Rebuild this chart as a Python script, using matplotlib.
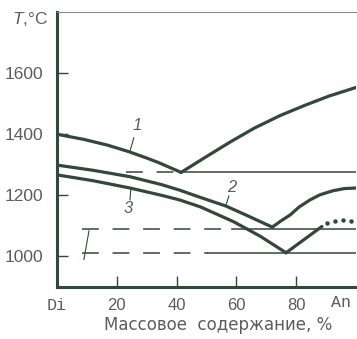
import matplotlib
matplotlib.use("Agg")
import matplotlib.pyplot as plt

# Liquidus curves (mass %, °C)
c1_left_x = [0, 9, 17, 24, 30, 34, 38, 41.5]
c1_left_t = [1400, 1383, 1364, 1343, 1322, 1307, 1290, 1275]
c1_right_x = [41.5, 50, 58, 66, 74.6, 83, 91, 100]
c1_right_t = [1275, 1327, 1375, 1420, 1461, 1495, 1525, 1553]

c2_left_x = [0, 12, 24.4, 35, 41, 48, 56.5, 64, 72]
c2_left_t = [1299, 1282, 1261, 1235, 1217, 1193, 1165, 1132, 1096]
c2_right_x = [72, 75, 78, 81, 84.6, 88, 92.3, 96, 100]
c2_right_t = [1096, 1117, 1136, 1162, 1185, 1202, 1215, 1222, 1224]

c3_left_x = [0, 12, 24.4, 35, 41, 48, 59, 68, 76.6]
c3_left_t = [1267, 1248, 1224, 1200, 1185, 1162, 1114, 1066, 1012]
c3_right_x = [76.6, 88.6]
c3_right_t = [1012, 1098]
c3_dot_x = [90.3, 93, 95.7, 98.3]
c3_dot_t = [1110, 1116, 1118, 1117]

# Eutectic isotherms: temperature, dashed start, solid start
eutectic_t = [1275, 1090, 1011]
dash_start = [23, 8.4, 8.4]
solid_start = [41.5, 58.5, 50.5]

xtick_vals = [0, 20, 40, 60, 80]
xtick_labels = ["Di", "20", "40", "60", "80"]
ytick_vals = [1000, 1200, 1400, 1600]

line_col = "#33473a"
text_col = "#5c5c5c"

plt.rcParams["mathtext.fontset"] = "custom"
plt.rcParams["mathtext.it"] = "Liberation Sans:italic"

fig = plt.figure(figsize=(3.57, 3.39), dpi=100)
ax = fig.add_axes([57 / 357, 1 - 287 / 339, 299 / 357, 275 / 339])
ax.set_xlim(0, 100)
ax.set_ylim(900, 1800)

lw = 2.3
for xs, ts in [(c1_left_x, c1_left_t), (c1_right_x, c1_right_t),
               (c2_left_x, c2_left_t), (c2_right_x, c2_right_t),
               (c3_left_x, c3_left_t), (c3_right_x, c3_right_t)]:
    ax.plot(xs, ts, color=line_col, lw=lw, solid_capstyle="round", solid_joinstyle="round")

# dotted continuation of curve 3
ax.plot(c3_dot_x, c3_dot_t, color=line_col, linestyle="none", marker="o",
        markersize=3.2, markeredgewidth=0)

for t, d0, s0 in zip(eutectic_t, dash_start, solid_start):
    ax.plot([d0, s0], [t, t], color=line_col, lw=1.1, linestyle=(0, (11, 9)))
    ax.plot([s0, 100], [t, t], color=line_col, lw=1.1)

# Leader lines for curve numbers
ax.plot([25.7, 24.4], [1388, 1345], color=line_col, lw=0.8)
ax.plot([57.5, 56.5], [1198, 1168], color=line_col, lw=0.8)
ax.plot([24.4, 24.7], [1185, 1221], color=line_col, lw=0.8)
ax.plot([10.7, 9.0], [1084, 990], color=line_col, lw=0.8)

lab_font = dict(color=text_col, fontsize=12, family="Liberation Sans", style="italic")
ax.text(26.8, 1430, "1", ha="center", va="center", **lab_font)
ax.text(58.5, 1224, "2", ha="center", va="center", **lab_font)
ax.text(23.7, 1158, "3", ha="center", va="center", **lab_font)

for side in ["left", "bottom"]:
    ax.spines[side].set_linewidth(2.2)
    ax.spines[side].set_color(line_col)
ax.spines["top"].set_linewidth(0.8)
ax.spines["top"].set_color("#8a8a8a")
ax.spines["right"].set_visible(False)

ax.set_yticks(ytick_vals)
ax.set_yticklabels([str(v) for v in ytick_vals])
ax.set_xticks(xtick_vals)
ax.set_xticklabels(xtick_labels)
ax.tick_params(direction="in", length=8, width=1, color=line_col, labelcolor=text_col)
ax.tick_params(axis="y", pad=10, labelsize=12.5)
ax.tick_params(axis="x", pad=8, labelsize=12)
for lbl in ax.get_yticklabels() + ax.get_xticklabels():
    lbl.set_family("Liberation Sans")
ax.get_xticklabels()[0].set_family("Liberation Mono")

ax.text(95, -0.058, "An", transform=ax.get_xaxis_transform(), ha="center", va="center",
        color=text_col, fontsize=12, family="Liberation Mono")

fig.text(48 / 357, 1 - 19 / 339, "$T$,°C", ha="right", va="center", color=text_col,
         fontsize=12.5, family="Liberation Sans")

fig.text(218 / 357, 1 - 325 / 339, "Массовое  содержание, %", ha="center", va="center",
         color=text_col, fontsize=12, family="DejaVu Sans")

fig.savefig("out.png", dpi=100, facecolor="white")
